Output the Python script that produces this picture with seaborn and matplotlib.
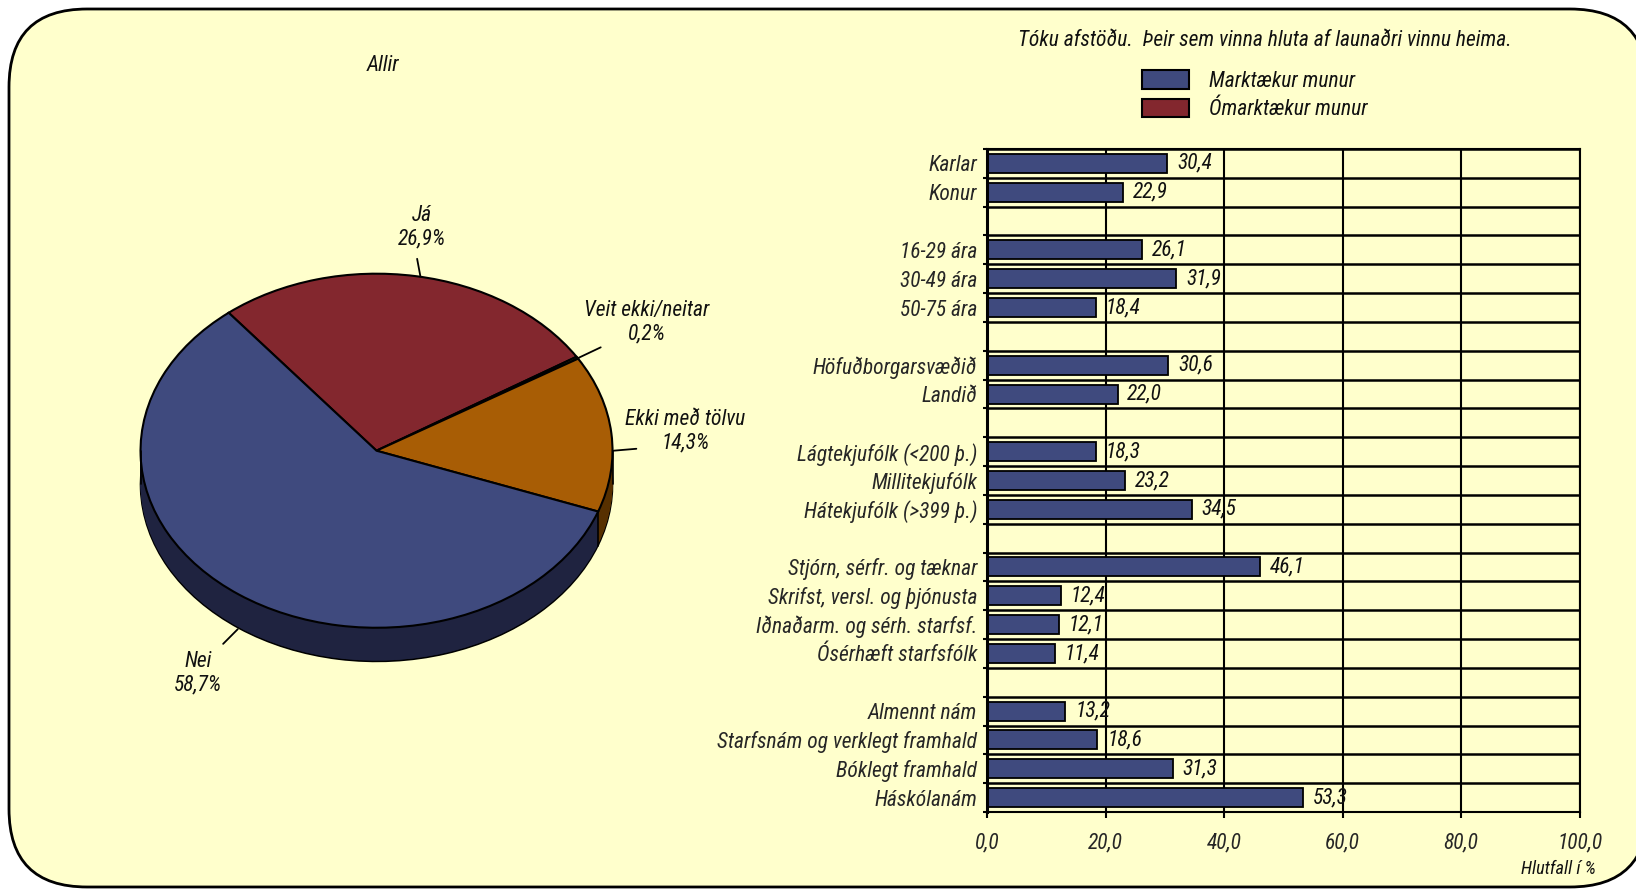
import numpy as np
import pandas as pd
import matplotlib
matplotlib.use("Agg")
import matplotlib.pyplot as plt
import seaborn as sns
from matplotlib import font_manager
from matplotlib.patches import FancyBboxPatch, Patch

# Gögn - skífurit (Allir)
pie_labels = ["Já", "Veit ekki/neitar", "Ekki með tölvu", "Nei"]
pie_values = [26.9, 0.2, 14.3, 58.7]

# Gögn - súlurit
bar_groups = [
    ["Karlar", "Konur"],
    ["16-29 ára", "30-49 ára", "50-75 ára"],
    ["Höfuðborgarsvæðið", "Landið"],
    ["Lágtekjufólk (<200 þ.)", "Millitekjufólk", "Hátekjufólk (>399 þ.)"],
    ["Stjórn, sérfr. og tæknar", "Skrifst, versl. og þjónusta",
     "Iðnaðarm. og sérh. starfsf.", "Ósérhæft starfsfólk"],
    ["Almennt nám", "Starfsnám og verklegt framhald", "Bóklegt framhald", "Háskólanám"],
]
bar_values = [
    [30.4, 22.9],
    [26.1, 31.9, 18.4],
    [30.6, 22.0],
    [18.3, 23.2, 34.5],
    [46.1, 12.4, 12.1, 11.4],
    [13.2, 18.6, 31.3, 53.3],
]
legend_labels = ["Marktækur munur", "Ómarktækur munur"]
x_ticks = [0, 20, 40, 60, 80, 100]

# Litir
bg = "#FFFFCC"
blue = "#3F4A7E"
red = "#83272E"
pie_colors = [red, "#5C6B2E", "#A85D05", blue]
side_colors = ["#41141A", "#2E3A18", "#573000", "#1F2340"]

sns.set_style("white")
installed = {f.name for f in font_manager.fontManager.ttflist}
narrow = [f for f in ["Liberation Sans Narrow", "Roboto Condensed", "Open Sans Condensed",
                      "Liberation Sans"] if f in installed]
plt.rcParams["font.family"] = narrow[:1] + ["DejaVu Sans"]
plt.rcParams["font.style"] = "italic"
fs = 15.5 if narrow and narrow[0] != "Liberation Sans" else 13
plt.rcParams["font.size"] = fs
plt.rcParams["text.color"] = "#111111"

fig = plt.figure(figsize=(16.36, 8.89), dpi=100, facecolor="white")

# bakgrunnur með ávölum hornum
ax_bg = fig.add_axes([0, 0, 1, 1], zorder=-5)
ax_bg.set_xlim(0, 1636)
ax_bg.set_ylim(889, 0)
ax_bg.axis("off")
ax_bg.add_patch(FancyBboxPatch((9, 9), 1639, 878,
                               boxstyle="round,pad=0,rounding_size=78",
                               facecolor=bg, edgecolor="black", linewidth=2))

# ---- skífurit ----
ax_pie = fig.add_axes([0.02445, 0.1001, 0.4114, 0.7874])
ax_pie.patch.set_alpha(0)
depth = 0.19
start = 128.8
ax_pie.pie(pie_values, colors=side_colors, startangle=start, counterclock=False,
           center=(0, -depth), wedgeprops=dict(edgecolor="black", linewidth=1.2))
for off in np.linspace(-depth, 0, 40)[1:-1]:
    ax_pie.pie(pie_values, colors=side_colors, startangle=start, counterclock=False,
               center=(0, off), wedgeprops=dict(linewidth=0))
ax_pie.pie(pie_values, colors=pie_colors, startangle=start, counterclock=False,
           center=(0, 0), wedgeprops=dict(edgecolor="black", linewidth=1.5))
# hliðarlínur
edge_ang = np.deg2rad(start - 3.6 * sum(pie_values[:3]))
for xx, yy in [(-1, 0), (1, 0), (np.cos(edge_ang), np.sin(edge_ang))]:
    ax_pie.plot([xx, xx], [yy, yy - depth], color="black", lw=1.2)

ax_pie.set_aspect("auto")
ax_pie.set_xlim(-1.426, 1.426)
ax_pie.set_ylim(-1.973, 1.981)
ax_pie.axis("off")

pie_text_pos = [(0.194, 1.261), (1.145, 0.725), (1.308, 0.112), (-0.756, -1.256)]
leaders = [((0.186, 0.984), (0.172, 1.084)),
           ((0.836, 0.512), (0.950, 0.584)),
           ((1.003, 0.0), (1.101, 0.011)),
           ((-0.588, -1.008), (-0.650, -1.091))]
for lab, val, (tx, ty), (p0, p1) in zip(pie_labels, pie_values, pie_text_pos, leaders):
    ax_pie.text(tx, ty, f"{lab}\n{val:.1f}%".replace(".", ","),
                ha="center", va="center", linespacing=1.15)
    ax_pie.plot([p0[0], p1[0]], [p0[1], p1[1]], color="black", lw=1.3)

fig.text(0.234, 0.926, "Allir", ha="center", va="center")

# ---- súlurit ----
rows, vals, order = [], [], []
for gi, (g, v) in enumerate(zip(bar_groups, bar_values)):
    if gi > 0:
        order.append(" " * gi)
    order.extend(g)
    rows.extend(g)
    vals.extend(v)
df = pd.DataFrame({"hopur": rows, "hlutfall": vals})

ax = fig.add_axes([0.6034, 0.0866, 0.3622, 0.7458])
ax.patch.set_alpha(0)
sns.barplot(data=df, x="hlutfall", y="hopur", order=order, orient="h",
            color=blue, saturation=1, edgecolor="black", linewidth=1.3,
            width=0.66, ax=ax)
ax.bar_label(ax.containers[0], fmt=lambda v: f"{v:.1f}".replace(".", ","),
             padding=7, fontsize=fs)

n = len(order)
ax.set_xlim(0, 100)
ax.set_ylim(n - 0.5, -0.5)
ax.set_yticks(np.arange(-0.5, n, 1), minor=True)
ax.set_xticks(x_ticks)
ax.set_xticklabels([f"{t:.1f}".replace(".", ",") for t in x_ticks])
ax.grid(False)
ax.grid(True, which="minor", axis="y", color="black", lw=1.8)
ax.grid(True, which="major", axis="x", color="black", lw=1.5)
ax.set_axisbelow(True)
for s in ax.spines.values():
    s.set_visible(True)
    s.set_color("black")
    s.set_linewidth(1.5)
ax.spines["left"].set_linewidth(2.2)
ax.tick_params(axis="y", which="major", length=0, pad=7, labelsize=fs)
ax.tick_params(axis="y", which="minor", left=True, length=3, width=1.5, color="black")
ax.tick_params(axis="x", which="major", bottom=True, length=4, width=1.5,
               color="black", pad=11, labelsize=fs)
ax.set_xlabel("")
ax.set_ylabel("")

fig.text(0.9756, 0.0225, "Hlutfall í %", ha="right", va="center", fontsize=fs * 0.85)
fig.text(0.7732, 0.9542, "Tóku afstöðu.  Þeir sem vinna hluta af launaðri vinnu heima.",
         ha="center", va="center")

handles = [Patch(facecolor=blue, edgecolor="black", linewidth=1.5),
           Patch(facecolor=red, edgecolor="black", linewidth=1.5)]
fig.legend(handles, legend_labels, loc="upper left", bbox_to_anchor=(0.6983, 0.921),
           frameon=False, borderpad=0, borderaxespad=0, handlelength=2.15,
           handleheight=0.97, handletextpad=0.95, labelspacing=0.3, fontsize=fs)

fig.savefig("out.png", dpi=100, facecolor="white")
